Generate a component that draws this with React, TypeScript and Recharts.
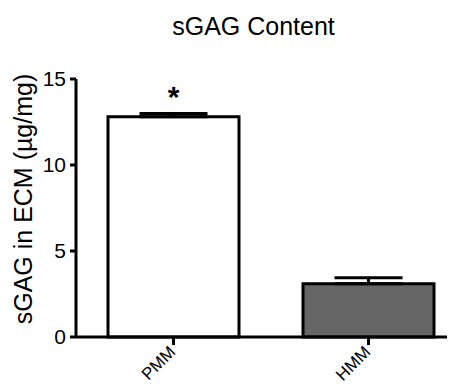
import React from 'react';
import { BarChart, Bar, XAxis, YAxis, Cell, ErrorBar, LabelList, Label } from 'recharts';

const categories = ['PMM', 'HMM'];
const means = [12.8, 3.1];
const errors = [0.2, 0.35];
const marks = ['*', ''];
const fills = ['#ffffff', '#666666'];
const yTicks = [0, 5, 10, 15];

const data = categories.map((c, i) => ({ name: c, value: means[i], err: [0, errors[i]], mark: marks[i] }));

const FONT = '"Liberation Sans", Arial, sans-serif';

const XTick = (props: any) => {
  const { x, y, payload } = props;
  const ax = x + 3;
  const ay = y + 6;
  return (
    <text
      x={ax}
      y={ay}
      transform={`rotate(-45, ${ax}, ${ay})`}
      textAnchor="end"
      fontFamily={FONT}
      fontSize={17}
      fill="#000"
    >
      {payload.value}
    </text>
  );
};

const StarLabel = (props: any) => {
  const { x, y, width, value } = props;
  if (!value) return null;
  return (
    <text x={x + width / 2} y={y - 10} textAnchor="middle" fontFamily={FONT} fontSize={30} fontWeight="bold" fill="#000">
      {value}
    </text>
  );
};

export default function App() {
  return (
    <div style={{ position: 'relative', width: 447, height: 378, overflow: 'hidden', background: '#fff' }}>
      <div
        style={{
          position: 'absolute',
          left: 0,
          top: 4,
          width: 491,
          textAlign: 'center',
          fontFamily: FONT,
          fontSize: 25,
          color: '#000',
          zIndex: 2,
        }}
      >
        sGAG Content
      </div>
      <BarChart width={460} height={378} data={data} margin={{ top: 71, right: 2, bottom: 0, left: 0 }} barSize={131}>
        <YAxis
          domain={[0, 15]}
          ticks={yTicks}
          width={68}
          axisLine={{ stroke: '#000', strokeWidth: 3 }}
          tickLine={{ stroke: '#000', strokeWidth: 3 }}
          tickSize={6}
          tickMargin={4}
          tick={{ fill: '#000', fontSize: 21, fontFamily: FONT }}
          interval={0}
        >
          <Label
            value="sGAG in ECM (µg/mg)"
            angle={-90}
            position="center"
            dx={-19}
            dy={-9}
            style={{ fontSize: 25, fontFamily: FONT, fill: '#000' }}
          />
        </YAxis>
        <XAxis
          dataKey="name"
          height={49}
          axisLine={{ stroke: '#000', strokeWidth: 3 }}
          tickLine={{ stroke: '#000', strokeWidth: 3 }}
          tickSize={8}
          tick={<XTick />}
          interval={0}
        />
        <Bar dataKey="value" isAnimationActive={false} stroke="#000" strokeWidth={3}>
          {data.map((d, i) => (
            <Cell key={d.name} fill={fills[i]} stroke="#000" strokeWidth={3} />
          ))}
          <ErrorBar dataKey="err" width={34} stroke="#000" strokeWidth={3} direction="y" />
          <LabelList dataKey="mark" content={<StarLabel />} />
        </Bar>
      </BarChart>
    </div>
  );
}
